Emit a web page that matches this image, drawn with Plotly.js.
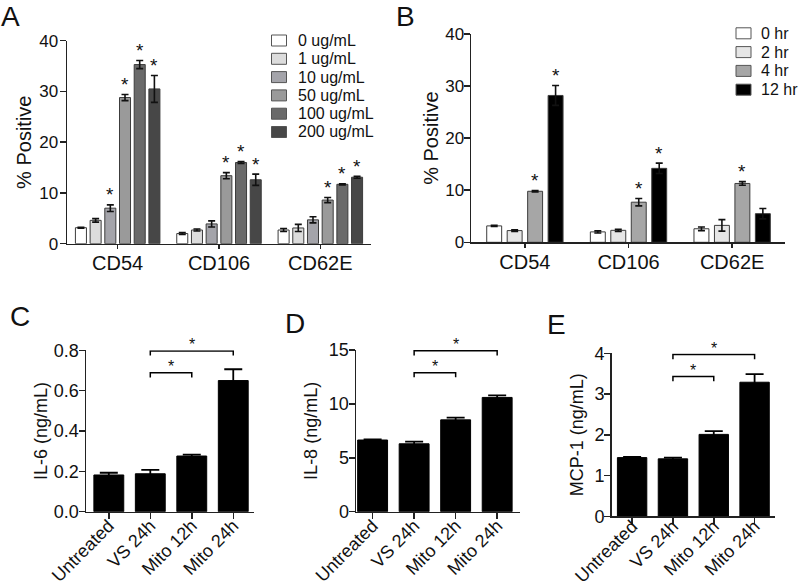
<!DOCTYPE html>
<html><head><meta charset="utf-8">
<script src="https://cdn.plot.ly/plotly-3.0.1.min.js"></script>
<style>html,body{margin:0;padding:0;background:#fff}#plot{width:800px;height:587px}</style>
</head><body><div id="plot"></div>
<script>
// ---------- DATA ----------
const markers = ['CD54', 'CD106', 'CD62E'];

const doseNames = ['0 ug/mL', '1 ug/mL', '10 ug/mL', '50 ug/mL', '100 ug/mL', '200 ug/mL'];
const doseValues = [
  [3.15, 2.0, 2.7],
  [4.6, 2.7, 3.1],
  [7.0, 3.9, 4.7],
  [28.8, 13.4, 8.6],
  [35.3, 16.0, 11.7],
  [30.5, 12.6, 13.1]
];
const doseErrors = [
  [0.1, 0.2, 0.3],
  [0.35, 0.2, 0.7],
  [0.65, 0.6, 0.6],
  [0.6, 0.6, 0.5],
  [0.8, 0.2, 0.1],
  [2.65, 1.1, 0.2]
];
const doseSig = [[0,0,0],[0,0,0],[1,0,0],[1,1,1],[1,1,1],[1,1,1]];

const timeNames = ['0 hr', '2 hr', '4 hr', '12 hr'];
const timeValues = [
  [3.15, 2.0, 2.6],
  [2.25, 2.3, 3.25],
  [9.8, 7.7, 11.3],
  [28.2, 14.2, 5.5]
];
const timeErrors = [
  [0.1, 0.2, 0.35],
  [0.15, 0.2, 1.1],
  [0.15, 0.7, 0.35],
  [1.9, 1.0, 1.0]
];
const timeSig = [[0,0,0],[0,0,0],[1,1,1],[1,1,0]];

const treatments = ['Untreated', 'VS 24h', 'Mito 12h', 'Mito 24h'];
const il6 = [0.182, 0.188, 0.276, 0.650];
const il6Err = [0.011, 0.019, 0.007, 0.056];
const il8 = [6.65, 6.30, 8.52, 10.60];
const il8Err = [0.06, 0.2, 0.2, 0.2];
const mcp1 = [1.44, 1.41, 2.01, 3.29];
const mcp1Err = [0.02, 0.03, 0.08, 0.2];

// brackets: [from index, to index, level]
const il6Brackets = [[1, 2, 0.689], [1, 3, 0.797]];
const il8Brackets = [[1, 2, 12.9], [1, 3, 14.92]];
const mcp1Brackets = [[1, 2, 3.43], [1, 3, 3.97]];

// ---------- STYLE ----------
const W = 800, H = 587;
const FONT = 'Liberation Sans, Arial, Helvetica, sans-serif';
const TXT = '#111';
const doseColors = ['#ffffff', '#dcdcdc', '#a4a4aa', '#9a9a9a', '#6a6a6a', '#474747'];
const timeColors = ['#ffffff', '#e6e6e6', '#a6a6a6', '#000000'];
const px = v => v / W;
const py = v => 1 - v / H;

const panels = {
  A: {x: [67, 371], y: [40.7, 243.7], range: [0, 40], xr: [-0.5, 2.5]},
  B: {x: [471, 785], y: [34, 242.3], range: [0, 40], xr: [-0.52, 2.51]},
  C: {x: [86, 254], y: [350.3, 511.7], range: [0, 0.8], xr: [-0.55, 3.5]},
  D: {x: [356, 520], y: [350, 511.7], range: [0, 15], xr: [-0.4, 3.55]},
  E: {x: [611.7, 775], y: [353.3, 516.3], range: [0, 4], xr: [-0.5, 3.5]}
};

const traces = [];
const annotations = [];
const shapes = [];

function groupedPanel(names, values, errors, sig, colors, xa, ya, groupFrac, innerGap) {
  const n = names.length;
  const slot = groupFrac / n;
  const w = slot * (1 - innerGap);
  names.forEach((nm, i) => {
    const off = -groupFrac / 2 + slot * i + slot * innerGap / 2;
    traces.push({
      type: 'bar', name: nm, x: markers, y: values[i],
      xaxis: xa, yaxis: ya, width: w, offset: off, showlegend: false,
      marker: {color: colors[i], line: {color: '#3c3c3c', width: 1}},
      error_y: {type: 'data', array: errors[i], visible: true, color: '#111', thickness: 1.6, width: 3.5},
      hoverinfo: 'skip'
    });
    values[i].forEach((v, j) => {
      if (sig[i][j]) {
        annotations.push({
          xref: xa, yref: ya, x: j + off + w / 2, y: v + errors[i][j],
          text: '*', showarrow: false, yanchor: 'middle', yshift: 10,
          font: {family: FONT, size: 19, color: TXT}
        });
      }
    });
  });
}

groupedPanel(doseNames, doseValues, doseErrors, doseSig, doseColors, 'x', 'y', 0.87, 0.25);
groupedPanel(timeNames, timeValues, timeErrors, timeSig, timeColors, 'x2', 'y2', 0.79, 0.27);

function simplePanel(vals, errs, br, key, xa, ya) {
  traces.push({
    type: 'bar', x: treatments, y: vals, xaxis: xa, yaxis: ya, width: 0.72,
    showlegend: false, marker: {color: '#000', line: {color: '#000', width: 1}},
    error_y: {type: 'data', array: errs, visible: true, color: '#000', thickness: 1.8, width: 9},
    hoverinfo: 'skip'
  });
  const p = panels[key];
  const unitPerPx = (p.range[1] - p.range[0]) / (p.y[1] - p.y[0]);
  const drop = 4.7 * unitPerPx;
  br.forEach(b => {
    const [a, c, lvl] = b;
    const ln = {color: '#000', width: 1.5};
    shapes.push({type: 'path', xref: xa, yref: ya,
      path: `M${a},${lvl - drop} L${a},${lvl} L${c},${lvl} L${c},${lvl - drop}`, line: ln});
    annotations.push({xref: xa, yref: ya, x: (a + c) / 2, y: lvl, text: '*', showarrow: false,
      yanchor: 'middle', yshift: 6, font: {family: FONT, size: 16, color: TXT}});
  });
}
simplePanel(il6, il6Err, il6Brackets, 'C', 'x3', 'y3');
simplePanel(il8, il8Err, il8Brackets, 'D', 'x4', 'y4');
simplePanel(mcp1, mcp1Err, mcp1Brackets, 'E', 'x5', 'y5');

// manual legends
function legend(names, colors, boxX, textX, rowY, step) {
  names.forEach((nm, i) => {
    const yc = rowY + step * i;
    shapes.push({type: 'rect', xref: 'paper', yref: 'paper',
      x0: px(boxX), x1: px(boxX + 15), y0: py(yc + 5.5), y1: py(yc - 5.5),
      fillcolor: colors[i], line: {color: '#555', width: 1}});
    annotations.push({xref: 'paper', yref: 'paper', x: px(textX), y: py(yc),
      xanchor: 'left', yanchor: 'middle', text: nm, showarrow: false,
      font: {family: FONT, size: 16, color: TXT}});
  });
}
legend(doseNames, doseColors, 271.5, 296, 40.5, 18.3);
legend(timeNames, timeColors, 736, 759, 33.3, 18.8);

// panel letters [letter, left px, top px]
[['A', 0, 0], ['B', 395, 0], ['C', 9, 300], ['D', 284, 307], ['E', 546, 307.5]].forEach(l => {
  annotations.push({xref: 'paper', yref: 'paper', x: px(l[1]), y: py(l[2]), xanchor: 'left',
    yanchor: 'top', borderpad: 0, text: l[0], showarrow: false,
    font: {family: FONT, size: 28, color: TXT}});
});

function yax(key, title, tickvals, tickfont, titlefont, standoff, tshift, anchor) {
  const p = panels[key];
  return {
    domain: [py(p.y[1]), py(p.y[0])], range: p.range, tickvals: tickvals,
    ticks: 'outside', ticklen: 6, tickwidth: 1.5, tickcolor: '#222',
    showline: true, linewidth: 1.5, linecolor: '#222', showgrid: false, zeroline: false,
    ticklabelstandoff: tshift,
    tickfont: {family: FONT, size: tickfont, color: TXT}, anchor: anchor, automargin: false,
    title: {text: title, font: {family: FONT, size: titlefont, color: TXT}, standoff: standoff}
  };
}
function xax(key, anchor, rotated, tshift) {
  const p = panels[key];
  return {
    domain: [px(p.x[0]), px(p.x[1])], range: p.xr, type: 'category', anchor: anchor,
    ticks: 'outside', ticklen: rotated ? 6 : 4, tickwidth: 1.5, tickcolor: '#222',
    showline: true, linewidth: 1.5, linecolor: '#222', showgrid: false, zeroline: false,
    tickangle: rotated ? -45 : 0, automargin: false,
    ticklabelstandoff: tshift,
    tickfont: {family: FONT, size: rotated ? 18 : 20, color: TXT}
  };
}

const layout = {
  width: W, height: H, margin: {l: 0, r: 0, t: 0, b: 0},
  paper_bgcolor: '#fff', plot_bgcolor: 'rgba(0,0,0,0)',
  barmode: 'overlay', showlegend: false,
  font: {family: FONT, color: TXT},
  xaxis: xax('A', 'y', false, -3),
  yaxis: yax('A', '% Positive', [0, 10, 20, 30, 40], 17, 20, 1.5, -2, 'x'),
  xaxis2: xax('B', 'y2', false, -3),
  yaxis2: yax('B', '% Positive', [0, 10, 20, 30, 40], 17, 20, 1, -4, 'x2'),
  xaxis3: xax('C', 'y3', true, -11),
  yaxis3: Object.assign(yax('C', 'IL-6 (ng/mL)', [0, 0.2, 0.4, 0.6, 0.8], 18, 18, 1.6, -4, 'x3'), {tickformat: '.1f'}),
  xaxis4: xax('D', 'y4', true, -11),
  yaxis4: yax('D', 'IL-8 (ng/mL)', [0, 5, 10, 15], 18, 18, 6.6, -4, 'x4'),
  xaxis5: xax('E', 'y5', true, -15),
  yaxis5: yax('E', 'MCP-1 (ng/mL)', [0, 1, 2, 3, 4], 18, 18, 5.6, -4, 'x5'),
  annotations: annotations,
  shapes: shapes
};

Plotly.newPlot('plot', traces, layout, {staticPlot: true, displayModeBar: false});
</script>
</body></html>
